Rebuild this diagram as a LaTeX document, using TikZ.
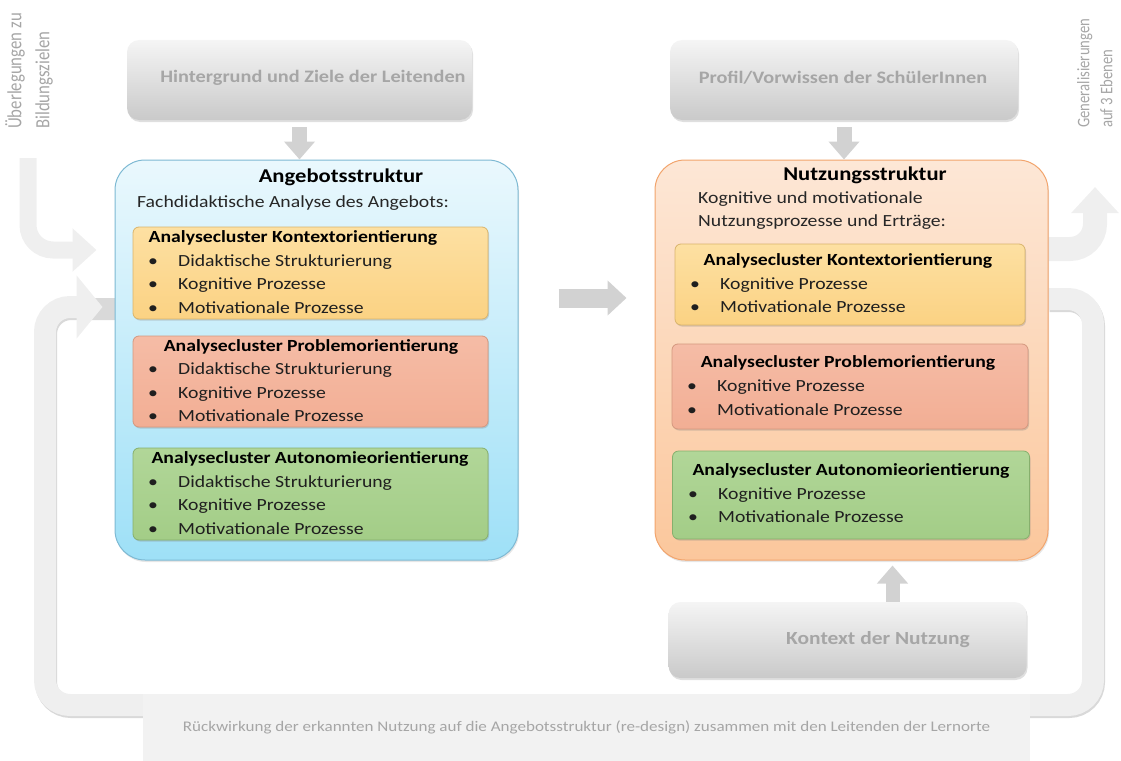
\documentclass[tikz,border=0pt]{standalone}
\usepackage{fontspec}
\setmainfont[FakeStretch=1.16]{Carlito}
\newfontfamily\sidefont{Carlito}
\usetikzlibrary{positioning, arrows.meta, shadows, backgrounds}

\definecolor{grayfont}{HTML}{A6A6A6}
\definecolor{bandgray}{HTML}{EFEFEF}
\definecolor{arrowgray}{HTML}{D2D2D2}
\definecolor{blueborder}{HTML}{7DB9D3}
\definecolor{bluetop}{HTML}{EAF8FD}
\definecolor{bluebot}{HTML}{9EE0F7}
\definecolor{peachtop}{HTML}{FDE7D6}
\definecolor{peachbot}{HTML}{FBC79C}
\definecolor{peachborder}{HTML}{F2A46C}
\definecolor{yellowtop}{HTML}{FDE0A2}
\definecolor{yellowbot}{HTML}{FBD283}
\definecolor{yellowborder}{HTML}{D9B46C}
\definecolor{redtop}{HTML}{F5BCA6}
\definecolor{redbot}{HTML}{F2AE94}
\definecolor{redborder}{HTML}{D4987F}
\definecolor{greentop}{HTML}{B1D698}
\definecolor{greenbot}{HTML}{A3CD87}
\definecolor{greenborder}{HTML}{86AF6D}

\newcommand{\fsz}[1]{\fontsize{#1}{#1}\selectfont}
\newcommand{\bul}{\makebox[30pt][l]{\textbullet}}
\newcommand{\wide}[1]{\scalebox{1}[1.2]{#1}}

\begin{document}
\begin{tikzpicture}[x=1pt, y=-1pt,
	graybox/.style={rectangle, rounded corners=12pt, top color=gray!8, bottom color=gray!42,
		drop shadow={shadow xshift=1pt, shadow yshift=-2pt, opacity=0.25}, text=grayfont, font=\fsz{18}\bfseries},
	bigbox/.style={rectangle, rounded corners=30pt, line width=1pt,
		drop shadow={shadow xshift=1pt, shadow yshift=-2pt, opacity=0.2}},
	cluster/.style={rectangle, rounded corners=6pt, line width=0.8pt,
		drop shadow={shadow xshift=1pt, shadow yshift=-1.5pt, opacity=0.3}},
	ctitle/.style={font=\fsz{17}\bfseries, text height=12pt, text depth=4pt, inner sep=0pt},
	citem/.style={anchor=west, font=\fsz{17}, text=black!88, text height=12pt, text depth=4pt, inner sep=0pt},
	blockarrow/.style={draw=arrowgray},
	band/.style={draw=bandgray, rounded corners=25pt}
	]
	\useasboundingbox (0,0) rectangle (1121,760);
	
	%Top boxes
	\node (Hintergrund) at (299.5,80) [graybox, minimum width=345pt, minimum height=80pt]{};
	\node (Scritto1) at (313,78) [text=grayfont, font=\fsz{17.5}\bfseries]{Hintergrund und Ziele der Leitenden};
	\node (Profil) at (844,80) [graybox, minimum width=348pt, minimum height=80pt]{};
	\node (Scritto2) at (843,78) [text=grayfont, font=\fsz{17.5}\bfseries]{Profil/Vorwissen der SchülerInnen};
	
	%Left block
	\node (Angebot) at (316.5,360) [bigbox, draw=blueborder, top color=bluetop, bottom color=bluebot,
	minimum width=403pt, minimum height=400pt]{};
	\node (Titel1) at (341,177) [font=\fsz{19.5}\bfseries]{Angebotsstruktur};
	\node (Untertitel1) at (137,203) [anchor=west, inner sep=0pt, font=\fsz{17}, text=black!85]{Fachdidaktische Analyse des Angebots:};
	
	\node (Kontext links) at (310.5,273) [cluster, draw=yellowborder, top color=yellowtop, bottom color=yellowbot,
	minimum width=355pt, minimum height=92pt]{};
	\node at (293,238) [ctitle]{Analysecluster Kontextorientierung};
	\node at (148,262) [citem]{\bul Didaktische Strukturierung};
	\node at (148,285) [citem]{\bul Kognitive Prozesse};
	\node at (148,309) [citem]{\bul Motivationale Prozesse};
	
	\node (Problem links) at (310.5,381.5) [cluster, draw=redborder, top color=redtop, bottom color=redbot,
	minimum width=355pt, minimum height=91pt]{};
	\node at (311,347) [ctitle]{Analysecluster Problemorientierung};
	\node at (148,370) [citem]{\bul Didaktische Strukturierung};
	\node at (148,394) [citem]{\bul Kognitive Prozesse};
	\node at (148,417) [citem]{\bul Motivationale Prozesse};
	
	\node (Autonomie links) at (310.5,494) [cluster, draw=greenborder, top color=greentop, bottom color=greenbot,
	minimum width=355pt, minimum height=92pt]{};
	\node at (310,459) [ctitle]{Analysecluster Autonomieorientierung};
	\node at (148,483) [citem]{\bul Didaktische Strukturierung};
	\node at (148,506) [citem]{\bul Kognitive Prozesse};
	\node at (148,530) [citem]{\bul Motivationale Prozesse};
	
	%Right block
	\node (Nutzung) at (851.5,360) [bigbox, draw=peachborder, top color=peachtop, bottom color=peachbot,
	minimum width=393pt, minimum height=400pt]{};
	\node (Titel2) at (865,175) [font=\fsz{19.5}\bfseries]{Nutzungsstruktur};
	\node (Untertitel2) at (698,199) [anchor=west, inner sep=0pt, font=\fsz{17}, text=black!85]{Kognitive und motivationale};
	\node (Untertitel3) at (698,222) [anchor=west, inner sep=0pt, font=\fsz{17}, text=black!85]{Nutzungsprozesse und Erträge:};
	
	\node (Kontext rechts) at (850,284.5) [cluster, draw=yellowborder, top color=yellowtop, bottom color=yellowbot,
	minimum width=350pt, minimum height=81pt]{};
	\node at (848,261) [ctitle]{Analysecluster Kontextorientierung};
	\node at (690,285) [citem]{\bul Kognitive Prozesse};
	\node at (690,308) [citem]{\bul Motivationale Prozesse};
	
	\node (Problem rechts) at (850,386.5) [cluster, draw=redborder, top color=redtop, bottom color=redbot,
	minimum width=356pt, minimum height=85pt]{};
	\node at (848,363) [ctitle]{Analysecluster Problemorientierung};
	\node at (687,387) [citem]{\bul Kognitive Prozesse};
	\node at (687,411) [citem]{\bul Motivationale Prozesse};
	
	\node (Autonomie rechts) at (851,495) [cluster, draw=greenborder, top color=greentop, bottom color=greenbot,
	minimum width=357pt, minimum height=88pt]{};
	\node at (851,471) [ctitle]{Analysecluster Autonomieorientierung};
	\node at (688,495) [citem]{\bul Kognitive Prozesse};
	\node at (688,518) [citem]{\bul Motivationale Prozesse};
	
	%Bottom boxes
	\node (Kontext) at (847.5,640) [graybox, minimum width=358pt, minimum height=76pt]{};
	\node (Scritto3) at (878,640) [text=grayfont, font=\fsz{18.5}\bfseries]{Kontext der Nutzung};
	\node (Rueckwirkung) at (586.5,727.5) [fill=gray!10, minimum width=887pt, minimum height=67pt,
	text=grayfont, font=\fsz{14.7}]{Rückwirkung der erkannten Nutzung auf die Angebotsstruktur (re-design) zusammen mit den Leitenden der Lernorte};
	
	%Side texts
	\node (Ueberlegungen) at (5,129) [rotate=90, anchor=north west, align=left, inner sep=0pt,
	text=grayfont, font=\sidefont\fontsize{16.8}{28}\selectfont]{\wide{Überlegungen zu}\\\wide{Bildungszielen}};
	\node (Generalisierungen) at (1077,128) [rotate=90, anchor=north west, align=left, inner sep=0pt,
	text=grayfont, font=\sidefont\fontsize{14.7}{23}\selectfont]{\wide{Generalisierungen}\\\wide{auf 3 Ebenen}};
	
	%Links among blocks
	\coordinate (Kontext oben) at ([xshift=45pt]Kontext.north);
	\draw[blockarrow, line width=15pt, shorten <=7pt, -{Triangle[length=18pt, width=30pt]}]
	(Hintergrund.south) -- (Hintergrund.south |- Angebot.north);
	\draw[blockarrow, line width=15pt, shorten <=7pt, -{Triangle[length=18pt, width=30pt]}]
	(Profil.south) -- (Profil.south |- Nutzung.north);
	\draw[blockarrow, line width=19pt, shorten <=40pt, shorten >=28pt, -{Triangle[length=19pt, width=34pt]}]
	([yshift=62pt]Angebot.east) -- ([yshift=62pt]Nutzung.west);
	\draw[blockarrow, line width=14pt, shorten >=5pt, -{Triangle[length=18pt, width=30pt]}]
	(Kontext oben) -- (Kontext oben |- Nutzung.south);
	
	%Feedback loop and side arrows
	\coordinate (Schleife rechts) at (1093,705);
	\coordinate (Schleife links) at (45,705);
	\coordinate (Start links) at (28,158);
	\coordinate (Ziel rechts) at (1095,187);
	\begin{scope}[on background layer]
		\draw[band, draw=gray!30, line width=22pt, transform canvas={xshift=1pt, yshift=-2pt}]
		([yshift=61pt]Nutzung.east) -| (Schleife rechts) -- (Schleife links) |- ([yshift=53pt]Angebot.west);
		\draw[band, line width=22pt, shorten >=12pt, -{Triangle[length=26pt, width=62pt]}]
		([yshift=61pt]Nutzung.east) -| (Schleife rechts) -- (Schleife links) |- ([yshift=53pt]Angebot.west);
		\draw[band, line width=17pt, shorten >=18pt, -{Triangle[length=24pt, width=42pt]}]
		(Start links) |- ([yshift=110pt]Angebot.west);
		\draw[band, line width=24pt, -{Triangle[length=26pt, width=46pt]}]
		([yshift=111pt]Nutzung.east) -| (Ziel rechts);
	\end{scope}
	
\end{tikzpicture}
\end{document}
